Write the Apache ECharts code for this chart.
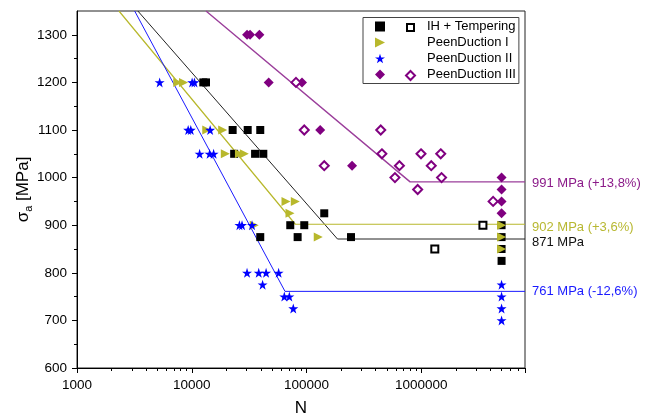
<!DOCTYPE html>
<html>
<head>
<meta charset="utf-8">
<script src="https://cdn.jsdelivr.net/npm/echarts@6/dist/echarts.min.js"></script>
<style>
html, body { margin: 0; padding: 0; background: #fff; }
#chart { width: 645px; height: 417px; }
</style>
</head>
<body>
<div id="chart"></div>
<script>
// S-N data: [cycles N, stress amplitude MPa]
var ihFilled = [[12600,1200],[13300,1200],[22700,1100],[30700,1100],[39500,1100],[23400,1050],[35600,1050],[42000,1050],
    [142600,925],[72100,900],[95500,900],[39500,875],[83600,875],[244000,875],
    [5000000,900],[5000000,875],[5000000,850],[5000000,825]];
var ihOpen = [[3440000,900],[1310000,850]];
var pd1 = [[7550,1200],[8470,1200],[13500,1100],[18600,1100],[19600,1050],[26000,1050],[28700,1050],
    [66200,950],[79800,950],[71700,925],[35000,900],[126500,875],
    [5000000,900],[5000000,875],[5000000,850]];
var pd2 = [[5250,1200],[10070,1200],[10550,1200],[9300,1100],[9800,1100],[14450,1100],[11700,1050],[14300,1050],[15500,1050],
    [26000,900],[27400,900],[33500,900],[30300,800],[38300,800],[44400,800],[57100,800],[41400,775],
    [64000,750],[70800,750],[76600,725],
    [5000000,775],[5000000,750],[5000000,725],[5000000,700]];
var pd3Filled = [[30300,1300],[32200,1300],[38800,1300],[46800,1200],[91300,1200],[131500,1100],[249000,1025],
    [5000000,1000],[5000000,975],[5000000,950],[5000000,925]];
var pd3Open = [[80900,1200],[95500,1100],[443000,1100],[453000,1050],[993000,1050],[1475000,1050],
    [142600,1025],[644000,1025],[1220000,1025],[589000,1000],[1500000,1000],[929000,975],[4220000,950]];

// fitted curves (sloped part, knee, endurance limit)
var fitIH = [[3390,1350],[186000,871],[8000000,871]];
var fitPD1 = [[2320,1350],[79800,902],[8000000,902]];
var fitPD2 = [[3180,1350],[64900,761],[8000000,761]];
var fitPD3 = [[13300,1350],[798000,991],[8000000,991]];
var fitLabels = ['871 MPa', '902 MPa (+3,6%)', '761 MPa (-12,6%)', '991 MPa (+13,8%)'];

var seriesNames = ['IH + Tempering', 'PeenDuction I', 'PeenDuction II', 'PeenDuction III'];
var yTicks = [600, 700, 800, 900, 1000, 1100, 1200, 1300];
var yMinor = [650, 750, 850, 950, 1050, 1150, 1250];
var xMin = 1000, xMax = 8000000;

var FONT = 'Liberation Sans, Arial, sans-serif';
var STAR = 'path://M50,2 L61.8,38 L99,38 L69,60 L80,96 L50,74 L20,96 L31,60 L1,38 L38.2,38 Z';
var TRI = 'path://M0,0 L10,5 L0,10 Z';
var cBlack = '#000000', cOlive = '#b8b82c', cBlue = '#0000ff', cPurple = '#800080';

var xMinorLog = [];
for (var d = 3; d <= 6; d++) {
    for (var k = 2; k <= 9; k++) {
        var v = Math.log10(k * Math.pow(10, d));
        if (v <= Math.log10(xMax) + 1e-9) xMinorLog.push(v);
    }
}

function fitLine(name, data, color, width, label, labelColor, dy) {
    return {
        name: name, type: 'line', data: data, symbol: 'none', z: 1,
        lineStyle: {color: color, width: width},
        endLabel: {show: true, formatter: label, color: labelColor, fontSize: 13, fontFamily: FONT,
            distance: 7, offset: [0, dy]}
    };
}

var chart = echarts.init(document.getElementById('chart'));
chart.setOption({
    animation: false,
    textStyle: {fontFamily: FONT},
    grid: {left: 77, right: 120, top: 11, bottom: 49, outerBoundsMode: 'none',
        show: true, borderColor: '#222', borderWidth: 1},
    legend: [{
        orient: 'vertical', left: 363, top: 17.5,
        padding: [1, 3, 1, 12], itemGap: 0, itemWidth: 10, itemHeight: 10,
        borderColor: '#444', borderWidth: 1, backgroundColor: '#fff',
        textStyle: {fontSize: 13, color: '#000', lineHeight: 16, padding: [0, 0, 0, 37], fontFamily: FONT},
        data: [
            {name: seriesNames[0], icon: 'rect'},
            {name: seriesNames[1], icon: TRI},
            {name: seriesNames[2], icon: STAR},
            {name: seriesNames[3], icon: 'diamond'}
        ]
    }, {
        orient: 'vertical', left: 406, top: 23, padding: 0, z: 6,
        itemWidth: 7, itemHeight: 7, formatter: function () { return ''; },
        textStyle: {fontSize: 7, lineHeight: 7},
        data: [{name: 'IH + Tempering (runout)', icon: 'emptyRect'}]
    }, {
        orient: 'vertical', left: 405, top: 70, padding: 0, z: 6,
        itemWidth: 9, itemHeight: 9, formatter: function () { return ''; },
        textStyle: {fontSize: 9, lineHeight: 9},
        data: [{name: 'PeenDuction III (open)', icon: 'emptyDiamond'}]
    }],
    xAxis: [{
        type: 'log', logBase: 10, min: xMin, max: xMax, position: 'bottom',
        name: 'N', nameLocation: 'middle', nameGap: 32, nameMoveOverlap: false,
        nameTextStyle: {fontSize: 17, color: '#000', fontFamily: FONT},
        axisLine: {lineStyle: {color: '#000', width: 1}},
        axisTick: {show: true, inside: false, length: 5, lineStyle: {color: '#000'}},
        splitLine: {show: false},
        axisLabel: {fontSize: 13.5, color: '#000', margin: 10, fontFamily: FONT,
            formatter: function (v) {
                var l = Math.log10(v);
                return Math.abs(l - Math.round(l)) < 1e-6 ? String(Math.round(v)) : '';
            }}
    }, {
        type: 'value', min: 3, max: Math.log10(xMax), position: 'bottom',
        axisLine: {show: false}, axisLabel: {show: false}, splitLine: {show: false},
        axisTick: {show: true, length: 3, customValues: xMinorLog, lineStyle: {color: '#000'}}
    }],
    yAxis: [{
        type: 'value', min: 600, max: 1350, interval: 100, position: 'left',
        name: '{s|σ}{b|a}{s| [MPa]}', nameLocation: 'middle', nameGap: 43, nameMoveOverlap: false,
        nameTextStyle: {color: '#000', fontFamily: FONT,
            rich: {
                s: {fontSize: 17, lineHeight: 22, color: '#000', fontFamily: FONT},
                b: {fontSize: 11, lineHeight: 11, verticalAlign: 'bottom', color: '#000', fontFamily: FONT}
            }},
        axisLine: {show: true, lineStyle: {color: '#000', width: 1}},
        axisTick: {show: true, length: 5, customValues: yTicks, lineStyle: {color: '#000'}},
        axisLabel: {fontSize: 13.5, color: '#000', margin: 10, customValues: yTicks, fontFamily: FONT,
            formatter: function (v) { return String(v); }},
        splitLine: {show: false}
    }, {
        type: 'value', min: 600, max: 1350, position: 'left',
        axisLine: {show: false}, axisLabel: {show: false}, splitLine: {show: false},
        axisTick: {show: true, length: 3, customValues: yMinor, lineStyle: {color: '#000'}}
    }],
    series: [
        fitLine('fit IH', fitIH, '#222222', 1, fitLabels[0], '#111111', 3),
        fitLine('fit PD I', fitPD1, '#b8b82c', 1.2, fitLabels[1], '#b8b832', 3),
        fitLine('fit PD II', fitPD2, '#1a1aff', 1, fitLabels[2], '#1a1aff', 0),
        fitLine('fit PD III', fitPD3, '#9b3f9b', 1.4, fitLabels[3], '#8b1a89', 2),
        {name: seriesNames[0], type: 'scatter', data: ihFilled, symbol: 'rect', symbolSize: 8,
            itemStyle: {color: cBlack, opacity: 1}},
        {name: 'IH + Tempering (runout)', type: 'scatter', data: ihOpen, symbol: 'emptyRect', symbolSize: 7,
            itemStyle: {color: cBlack, borderWidth: 1.5, opacity: 1}},
        {name: seriesNames[1], type: 'scatter', data: pd1, symbol: TRI, symbolSize: [9, 9],
            itemStyle: {color: cOlive, opacity: 1}},
        {name: seriesNames[2], type: 'scatter', data: pd2, symbol: STAR, symbolSize: 10,
            itemStyle: {color: cBlue, opacity: 1}},
        {name: seriesNames[3], type: 'scatter', data: pd3Filled, symbol: 'diamond', symbolSize: 10,
            itemStyle: {color: cPurple, opacity: 1}},
        {name: 'PeenDuction III (open)', type: 'scatter', data: pd3Open, symbol: 'emptyDiamond', symbolSize: 9,
            itemStyle: {color: cPurple, borderWidth: 1.6, opacity: 1}}
    ]
});
</script>
</body>
</html>
